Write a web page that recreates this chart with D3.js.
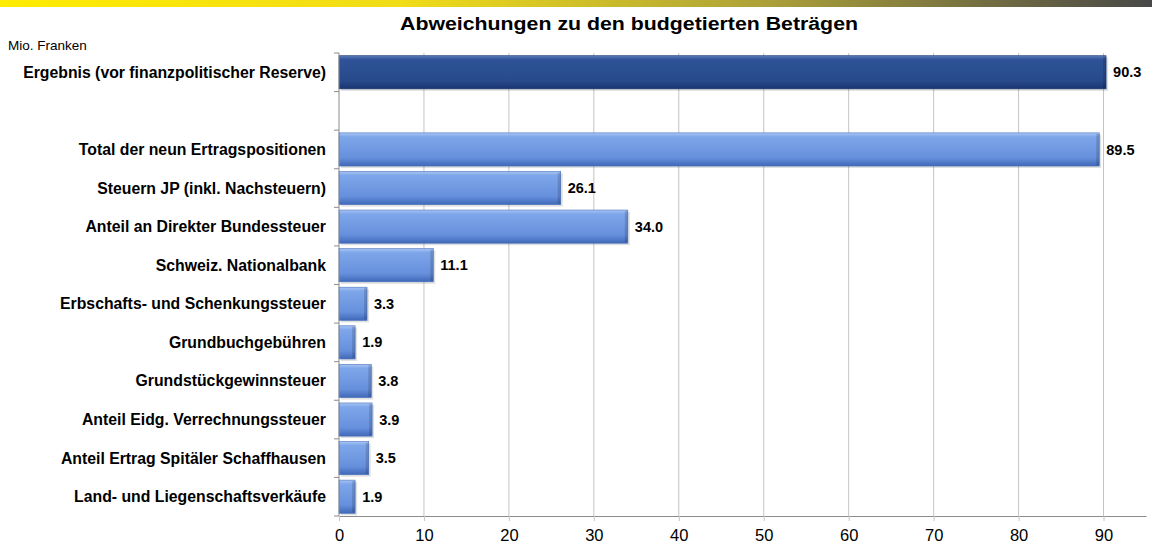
<!DOCTYPE html>
<html lang="de">
<head>
<meta charset="UTF-8">
<title>Abweichungen zu den budgetierten Beträgen</title>
<script src="https://cdn.jsdelivr.net/npm/d3@7"></script>
<style>
  body { margin: 0; background: #fff; }
  svg { display: block; font-family: "Liberation Sans", Arial, sans-serif; }
  .cat { font-size: 15.8px; font-weight: bold; fill: #000; }
  .val { font-size: 14.5px; font-weight: bold; fill: #000; }
  .grid line { stroke: #c4c4c4; stroke-width: 1; }
</style>
</head>
<body>
<svg width="1152" height="548"></svg>
<script>
// data
var categories = [
  "Ergebnis (vor finanzpolitischer Reserve)",
  "",
  "Total der neun Ertragspositionen",
  "Steuern JP (inkl. Nachsteuern)",
  "Anteil an Direkter Bundessteuer",
  "Schweiz. Nationalbank",
  "Erbschafts- und Schenkungssteuer",
  "Grundbuchgebühren",
  "Grundstückgewinnsteuer",
  "Anteil Eidg. Verrechnungssteuer",
  "Anteil Ertrag Spitäler Schaffhausen",
  "Land- und Liegenschaftsverkäufe"
];
var values = [90.3, null, 89.5, 26.1, 34.0, 11.1, 3.3, 1.9, 3.8, 3.9, 3.5, 1.9];
var xTicks = [0, 10, 20, 30, 40, 50, 60, 70, 80, 90];

var svg = d3.select("svg"),
    width = +svg.attr("width"),
    height = +svg.attr("height");

var mLeft = 339, mRight = 1146, mTop = 53, mBottom = 516;

var x = d3.scaleLinear().domain([0, 95]).range([mLeft, mRight]);
var y = d3.scaleBand().domain(d3.range(categories.length)).range([mTop, mBottom]).paddingInner(0.14).paddingOuter(0.07);

var defs = svg.append("defs");

// header strip
var hg = defs.append("linearGradient").attr("id", "strip");
hg.append("stop").attr("offset", "0%").attr("stop-color", "#ffec00");
hg.append("stop").attr("offset", "35%").attr("stop-color", "#f0dc18");
hg.append("stop").attr("offset", "65%").attr("stop-color", "#b0a438");
hg.append("stop").attr("offset", "100%").attr("stop-color", "#484848");
svg.append("rect").attr("x", 0).attr("y", 0).attr("width", width).attr("height", 7).attr("fill", "url(#strip)");

function barGrad(id, c1, c2, c3, c4) {
  var g = defs.append("linearGradient").attr("id", id).attr("x1", 0).attr("y1", 0).attr("x2", 0).attr("y2", 1);
  g.append("stop").attr("offset", "0%").attr("stop-color", c1);
  g.append("stop").attr("offset", "12%").attr("stop-color", c2);
  g.append("stop").attr("offset", "75%").attr("stop-color", c3);
  g.append("stop").attr("offset", "100%").attr("stop-color", c4);
}
barGrad("light", "#a9c6f4", "#7ea6ea", "#6690dc", "#3f68b8");
barGrad("dark", "#5a7ab8", "#2f5398", "#284a8c", "#1b3670");

// title
svg.append("text")
  .attr("x", 629).attr("y", 30)
  .attr("text-anchor", "middle")
  .attr("textLength", 458)
  .attr("lengthAdjust", "spacingAndGlyphs")
  .style("font-size", "17.5px").style("font-weight", "bold")
  .text("Abweichungen zu den budgetierten Beträgen");

svg.append("text")
  .attr("x", 8).attr("y", 50)
  .style("font-size", "13.5px")
  .text("Mio. Franken");

// grid
svg.append("g").attr("class", "grid")
  .selectAll("line")
  .data(xTicks.slice(1))
  .enter().append("line")
    .attr("x1", function(d) { return x(d); })
    .attr("x2", function(d) { return x(d); })
    .attr("y1", mTop)
    .attr("y2", mBottom);

// bars
var rows = categories.map(function(c, i) { return { cat: c, val: values[i], i: i }; })
  .filter(function(d) { return d.val != null; });

var bar = svg.append("g").selectAll("g")
  .data(rows)
  .enter().append("g");

// shadow
bar.append("rect")
  .attr("x", x(0) + 2)
  .attr("y", function(d) { return y(d.i) + 2; })
  .attr("width", function(d) { return x(d.val) - x(0); })
  .attr("height", y.bandwidth())
  .attr("fill", "#000")
  .attr("opacity", 0.12);

bar.append("rect")
  .attr("x", x(0))
  .attr("y", function(d) { return y(d.i); })
  .attr("width", function(d) { return x(d.val) - x(0); })
  .attr("height", y.bandwidth())
  .attr("fill", function(d) { return d.i === 0 ? "url(#dark)" : "url(#light)"; })
  .attr("stroke", function(d) { return d.i === 0 ? "#1d3a74" : "#4a72bf"; })
  .attr("stroke-width", 0.6);

// right bevel
bar.append("rect")
  .attr("x", function(d) { return x(d.val) - 3; })
  .attr("y", function(d) { return y(d.i) + 1; })
  .attr("width", 3)
  .attr("height", y.bandwidth() - 2)
  .attr("fill", "#000")
  .attr("opacity", 0.15);

bar.append("text")
  .attr("class", "val")
  .attr("x", function(d) { return x(d.val) + 7; })
  .attr("y", function(d) { return y(d.i) + y.bandwidth() / 2; })
  .attr("dy", "0.35em")
  .text(function(d) { return d.val.toFixed(1); });

// category labels
svg.append("g").selectAll("text")
  .data(categories)
  .enter().append("text")
    .attr("class", "cat")
    .attr("x", mLeft - 13)
    .attr("y", function(d, i) { return y(i) + y.bandwidth() / 2; })
    .attr("dy", "0.35em")
    .attr("text-anchor", "end")
    .text(function(d) { return d; });

// y axis line + boundary ticks
var bounds = d3.range(categories.length + 1).map(function(i) { return mTop + i * (mBottom - mTop) / categories.length; });
svg.append("line")
  .attr("x1", mLeft).attr("x2", mLeft)
  .attr("y1", mTop).attr("y2", mBottom)
  .attr("stroke", "#8c8c8c");
svg.append("g").selectAll("line")
  .data(bounds)
  .enter().append("line")
    .attr("x1", mLeft - 5).attr("x2", mLeft)
    .attr("y1", function(d) { return d; })
    .attr("y2", function(d) { return d; })
    .attr("stroke", "#8c8c8c");

// x axis
var xAxis = svg.append("g")
  .attr("transform", "translate(0," + mBottom + ")")
  .call(d3.axisBottom(x).tickValues(xTicks).tickSize(5).tickPadding(8).tickSizeOuter(0));
xAxis.select(".domain").attr("stroke", "#8c8c8c");
xAxis.selectAll(".tick line").attr("stroke", "#c4c4c4");
xAxis.selectAll("text")
  .attr("fill", "#000")
  .style("font-family", "'Liberation Sans', Arial, sans-serif")
  .style("font-size", "16.5px");
</script>
</body>
</html>
